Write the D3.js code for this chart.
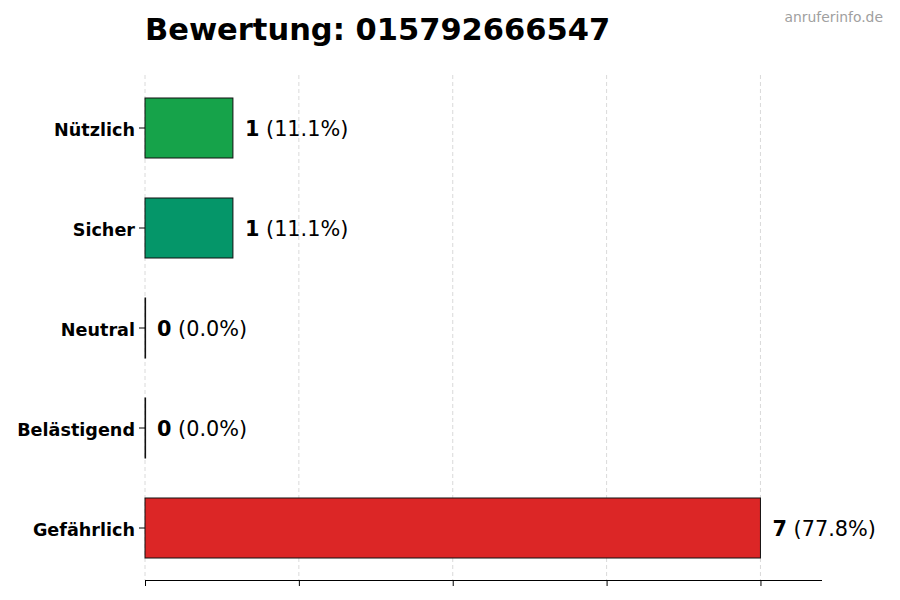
<!DOCTYPE html>
<html>
<head>
<meta charset="utf-8">
<script src="https://cdn.jsdelivr.net/npm/d3@7"></script>
<style>
  body { margin: 0; background: #fff; }
  svg { font-family: "DejaVu Sans", sans-serif; }
</style>
</head>
<body>
<svg id="chart" width="900" height="600"></svg>
<script>
const categories = ["Nützlich", "Sicher", "Neutral", "Belästigend", "Gefährlich"];
const counts = [1, 1, 0, 0, 7];
const percents = ["11.1%", "11.1%", "0.0%", "0.0%", "77.8%"];
const bar_colors = ["#16a34a", "#059669", "#9ca3af", "#ea580c", "#dc2626"];
const x_ticks = [0, 1.75, 3.5, 5.25, 7];
const title_text = "Bewertung: 015792666547";
const watermark = "anruferinfo.de";

const svg = d3.select("#chart");
const m_left = 145, m_right = 822, m_top = 78, m_bottom = 578;

const x = d3.scaleLinear().domain([0, d3.max(counts) * 1.1]).range([m_left, m_right]);
const y = d3.scaleBand().domain(categories).range([m_top, m_bottom]).paddingInner(0.4).paddingOuter(0.2);

// grid lines
svg.selectAll(".grid")
    .data(x_ticks)
    .enter().append("line")
    .attr("x1", d => x(d)).attr("x2", d => x(d))
    .attr("y1", 75).attr("y2", 580)
    .attr("stroke", "#d0d0d0")
    .attr("stroke-width", 0.8)
    .attr("stroke-dasharray", "4,3");

// bars (zero bars still show their edge as a thin line)
svg.selectAll(".bar")
    .data(categories)
    .enter().append("rect")
    .attr("x", x(0))
    .attr("y", d => y(d))
    .attr("width", (d, i) => Math.max(x(counts[i]) - x(0), 0.6))
    .attr("height", y.bandwidth())
    .attr("fill", (d, i) => bar_colors[i])
    .attr("stroke", "#111")
    .attr("stroke-width", 1);

// value labels
const labels = svg.selectAll(".val")
    .data(categories)
    .enter().append("text")
    .attr("x", (d, i) => x(counts[i]) + 12)
    .attr("y", d => y(d) + y.bandwidth() / 2)
    .attr("dy", "0.38em")
    .attr("font-size", 20.8)
    .attr("fill", "#000");
labels.append("tspan").attr("font-weight", "bold").text((d, i) => counts[i]);
labels.append("tspan").text((d, i) => ` (${percents[i]})`);

// x axis (ticks only, no labels)
const xAxis = d3.axisBottom(x).tickValues(x_ticks).tickSize(6).tickFormat("");
svg.append("g")
    .attr("transform", `translate(0,${580})`)
    .call(xAxis)
    .call(g => g.select(".domain").attr("d", `M${m_left},0.5H${m_right}`).attr("stroke", "#000"));

// y axis (labels + ticks, no spine)
const yAxis = d3.axisLeft(y).tickSize(6).tickPadding(4);
svg.append("g")
    .attr("transform", `translate(${m_left},0)`)
    .call(yAxis)
    .call(g => g.select(".domain").remove())
    .call(g => g.selectAll("line").attr("stroke", "#000"))
    .call(g => g.selectAll("text")
        .attr("dy", "0.45em")
        .attr("font-family", "DejaVu Sans")
        .attr("font-size", 17.6)
        .attr("font-weight", "bold")
        .attr("fill", "#000"));

// title
svg.append("text")
    .attr("x", m_left)
    .attr("y", 40)
    .attr("font-size", 30.5)
    .attr("font-weight", "bold")
    .text(title_text);

// watermark
svg.append("text")
    .attr("x", 883)
    .attr("y", 22)
    .attr("text-anchor", "end")
    .attr("font-size", 13.9)
    .attr("fill", "#a0a0a0")
    .text(watermark);
</script>
</body>
</html>
